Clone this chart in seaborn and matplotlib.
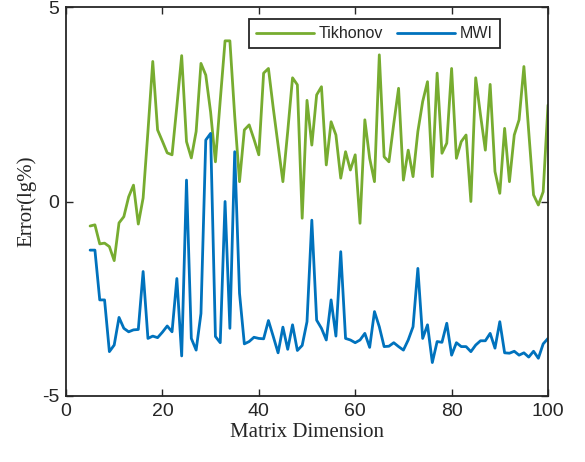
import numpy as np
import pandas as pd
import matplotlib
matplotlib.use("Agg")
import matplotlib.pyplot as plt
import seaborn as sns

# ---- data ----
dims = list(range(5, 101))
tikhonov = [
    -0.63, -0.60, -1.09, -1.07, -1.16, -1.52, -0.55, -0.39, 0.12, 0.42,   # 5-14
    -0.58, 0.09, 1.80, 3.60, 1.84, 1.55, 1.25, 1.20, 2.45, 3.75,          # 15-24
    1.54, 1.12, 1.80, 3.55, 3.25, 2.30, 1.02, 2.60, 4.13, 4.13,           # 25-34
    2.20, 0.51, 1.84, 1.97, 1.60, 1.20, 3.30, 3.42, 2.40, 1.45,           # 35-44
    0.51, 1.80, 3.18, 3.00, -0.43, 2.60, 1.45, 2.74, 2.95, 0.94,          # 45-54
    2.05, 1.71, 0.60, 1.28, 0.81, 1.20, -0.56, 2.10, 1.11, 0.51,          # 55-64
    3.77, 1.15, 1.02, 2.00, 2.91, 0.55, 1.32, 0.64, 1.80, 2.57,           # 65-74
    3.08, 0.64, 3.30, 1.24, 1.50, 3.42, 1.11, 1.54, 1.71, 0.00,           # 75-84
    3.18, 2.22, 1.32, 3.01, 0.77, 0.21, 1.88, 0.51, 1.71, 2.10,           # 85-94
    3.47, 1.80, 0.17, -0.09, 0.25, 2.48,                                  # 95-100
]
mwi = [
    -1.25, -1.25, -2.53, -2.53, -3.86, -3.69, -2.98, -3.26, -3.35, -3.30,  # 5-14
    -3.29, -1.80, -3.52, -3.46, -3.50, -3.36, -3.20, -3.35, -1.98, -3.97,  # 15-24
    0.55, -3.52, -3.82, -2.88, 1.58, 1.75, -3.47, -3.63, 0.00, -3.26,      # 25-34
    1.28, -2.36, -3.66, -3.60, -3.49, -3.52, -3.53, -3.06, -3.47, -3.89,   # 35-44
    -3.23, -3.80, -3.17, -3.83, -3.70, -3.09, -0.48, -3.05, -3.26, -3.56,  # 45-54
    -2.53, -3.46, -1.29, -3.52, -3.56, -3.63, -3.56, -3.39, -3.75, -2.83,  # 55-64
    -3.22, -3.73, -3.72, -3.63, -3.73, -3.82, -3.56, -3.22, -1.72, -3.52,  # 65-74
    -3.17, -4.14, -3.60, -3.62, -3.13, -3.95, -3.63, -3.73, -3.73, -3.86,  # 75-84
    -3.69, -3.58, -3.58, -3.39, -3.77, -3.09, -3.89, -3.90, -3.85, -3.95,  # 85-94
    -3.89, -4.00, -3.85, -4.03, -3.66, -3.52,                              # 95-100
]
series_names = ["Tikhonov", "MWI"]
xticks = [0, 20, 40, 60, 80, 100]
yticks = [-5, 0, 5]

assert len(tikhonov) == len(dims) and len(mwi) == len(dims)

df = pd.DataFrame({
    "dim": dims * 2,
    "err": tikhonov + mwi,
    "method": [series_names[0]] * len(dims) + [series_names[1]] * len(dims),
})

sns.set_style("white")
plt.rcParams["font.family"] = ["Liberation Sans", "DejaVu Sans"]
plt.rcParams["axes.unicode_minus"] = False

fig = plt.figure(figsize=(5.85, 4.62), dpi=100)
ax = fig.add_axes([66 / 585, 66 / 462, 482 / 585, 389 / 462])

palette = {"Tikhonov": "#77AC30", "MWI": "#0072BD"}
sns.lineplot(data=df, x="dim", y="err", hue="method", palette=palette,
             linewidth=2.0, ax=ax, legend=True)

ax.set_xlim(0, 100)
ax.set_ylim(-5, 5)
ax.set_xticks(xticks)
ax.set_yticks(yticks)
ax.set_xticklabels([str(t) for t in xticks])
ax.set_yticklabels([str(t) for t in yticks])
ax.tick_params(direction="in", length=5, width=1.0, colors="#262626",
               labelsize=14, top=True, right=True, bottom=True, left=True,
               labelcolor="#262626", pad=5)
for s in ax.spines.values():
    s.set_visible(True)
    s.set_color("#262626")
    s.set_linewidth(1.3)

ax.set_xlabel("Matrix Dimension", fontfamily="Liberation Serif", fontsize=15,
              color="#262626", labelpad=2)
ax.set_ylabel("Error(lg%)", fontfamily="Liberation Serif", fontsize=15,
              color="#262626", labelpad=4)

handles, labels = ax.get_legend_handles_labels()
leg = ax.legend(handles, labels, ncol=2, loc="upper right",
                bbox_to_anchor=(0.900, 0.969), borderaxespad=0,
                frameon=True, fancybox=False, framealpha=1,
                edgecolor="#262626", fontsize=11.5, handlelength=3.6,
                columnspacing=0.9, handletextpad=0.3, borderpad=0.45)
leg.get_frame().set_linewidth(1.3)

fig.savefig("out.png", dpi=100)
